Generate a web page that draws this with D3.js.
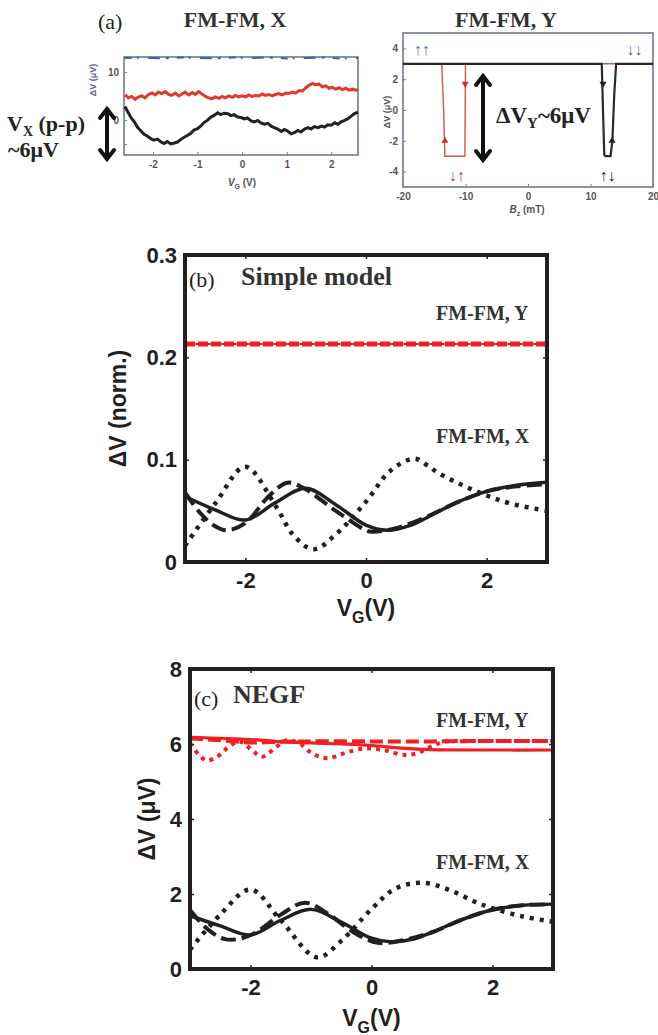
<!DOCTYPE html>
<html>
<head>
<meta charset="utf-8">
<script src="https://cdn.jsdelivr.net/npm/d3@7"></script>
<style>
  body { margin: 0; background: #fff; }
  svg text { font-family: "Liberation Sans", Arial, sans-serif; }
  .serif { font-family: "Liberation Serif", "Times New Roman", serif !important; }
</style>
</head>
<body>
<svg id="fig" width="658" height="1035"></svg>
<script>
// ---------- data ----------
// panel (a) left: measured DeltaV vs V_G
var aLeftRed = [[-2.62,5.2],[-2.55,4.6],[-2.48,4.9],[-2.4,4.3],[-2.32,4.8],[-2.25,5.0],[-2.18,4.6],[-2.1,5.3],[-2.02,5.6],[-1.95,5.2],[-1.88,5.8],[-1.8,5.5],[-1.72,5.9],[-1.65,5.3],[-1.58,5.1],[-1.5,5.6],[-1.42,5.0],[-1.35,5.4],[-1.28,5.8],[-1.2,5.2],[-1.12,5.7],[-1.05,5.3],[-0.98,5.9],[-0.9,5.4],[-0.82,4.9],[-0.75,4.6],[-0.68,4.4],[-0.6,4.8],[-0.52,4.5],[-0.45,4.9],[-0.38,4.6],[-0.3,5.0],[-0.22,4.7],[-0.15,5.1],[-0.08,4.8],[0,5.0],[0.08,4.8],[0.15,5.2],[0.22,4.9],[0.3,5.1],[0.38,5.0],[0.45,5.4],[0.52,5.1],[0.6,5.3],[0.68,5.0],[0.75,5.3],[0.82,5.5],[0.9,5.2],[0.98,5.6],[1.05,5.5],[1.12,5.8],[1.2,5.6],[1.28,6.1],[1.35,6.0],[1.42,6.6],[1.5,7.2],[1.58,7.6],[1.65,7.3],[1.72,7.5],[1.8,6.9],[1.88,7.1],[1.95,6.6],[2.02,6.8],[2.1,6.4],[2.18,6.7],[2.25,6.3],[2.32,6.6],[2.4,6.2],[2.48,6.4],[2.55,6.2],[2.6,6.3]];
var aLeftBlack = [[-2.63,2.8],[-2.56,1.6],[-2.5,0.6],[-2.42,-0.4],[-2.35,-1.5],[-2.28,-2.2],[-2.2,-3.0],[-2.12,-3.4],[-2.05,-3.9],[-1.98,-4.2],[-1.9,-4.0],[-1.82,-4.6],[-1.75,-4.9],[-1.68,-4.5],[-1.6,-5.0],[-1.52,-4.8],[-1.45,-4.6],[-1.38,-4.1],[-1.3,-3.6],[-1.22,-3.2],[-1.15,-2.8],[-1.08,-2.1],[-1.0,-1.8],[-0.92,-1.2],[-0.85,-0.5],[-0.78,-0.1],[-0.7,0.6],[-0.62,1.0],[-0.55,1.5],[-0.48,1.1],[-0.4,1.4],[-0.32,1.3],[-0.25,0.9],[-0.18,1.1],[-0.1,0.6],[-0.02,0.5],[0.05,0.2],[0.12,0.4],[0.2,-0.2],[0.28,-0.4],[0.35,-0.1],[0.42,-0.6],[0.5,-0.9],[0.58,-0.7],[0.65,-1.3],[0.72,-1.6],[0.8,-1.9],[0.88,-2.4],[0.95,-2.0],[1.02,-2.3],[1.1,-2.9],[1.18,-2.6],[1.25,-2.2],[1.32,-2.5],[1.4,-1.9],[1.48,-1.6],[1.55,-1.9],[1.62,-1.4],[1.7,-1.6],[1.78,-1.3],[1.85,-1.5],[1.92,-1.0],[2.0,-1.1],[2.08,-0.6],[2.15,-0.9],[2.22,-0.4],[2.3,-0.1],[2.38,0.3],[2.45,0.8],[2.52,1.3],[2.6,1.6]];
var aLeftBlue = [[-2.63,12.9],[-2.2,13.0],[-1.8,12.8],[-1.4,13.0],[-1.0,12.9],[-0.6,12.8],[-0.2,13.0],[0.2,12.9],[0.6,13.0],[1.0,12.8],[1.4,12.9],[1.8,13.0],[2.2,12.8],[2.6,12.9]];
var aLeftXTicks = [-2, -1, 0, 1, 2];
var aLeftYTicks = [-5, 0, 5, 10];

// panel (a) right: DeltaV vs B_z sweep
var aRightRed = [[-20,3],[-13.8,3],[-13.5,0],[-13.3,-3],[-10.1,-3],[-10,3],[20,3]];
var aRightBlack = [[-20,3],[11.8,3],[12.0,0],[12.2,-2.9],[12.4,-3],[13.2,-3],[13.5,-2],[13.8,1],[14.1,3],[20,3]];
var aRightXTicks = [-20, -10, 0, 10, 20];
var aRightYTicks = [-4, -2, 0, 2, 4];

// panel (b) simple model
var vgB = [-3, -2.5, -2, -1.5, -1, -0.5, 0, 0.35, 0.75, 1, 1.5, 2, 2.5, 3];
var bSolid = [0.064, 0.051, 0.041, 0.058, 0.072, 0.056, 0.036, 0.031, 0.036, 0.043, 0.058, 0.069, 0.075, 0.078];
var vgBDash = [-3, -2.75, -2.5, -2.3, -2, -1.6, -1.3, -1, -0.5, 0, 0.1, 0.5, 1, 1.5, 2, 2.5, 3];
var bDash = [0.068, 0.048, 0.035, 0.031, 0.038, 0.065, 0.0775, 0.071, 0.05, 0.031, 0.0296, 0.033, 0.044, 0.058, 0.069, 0.074, 0.076];
var vgBDot = [-3, -2.5, -2, -1.5, -1.2, -0.87, -0.5, 0, 0.4, 0.8, 1.0, 1.2, 1.6, 2, 2.4, 3];
var bDot = [0.016, 0.057, 0.093, 0.055, 0.026, 0.0124, 0.027, 0.059, 0.089, 0.101, 0.095, 0.087, 0.075, 0.065, 0.057, 0.05];
var vgBRed = [-3, 3];
var bRed = [0.213, 0.213];

// panel (c) NEGF
var vgC = [-3, -2.5, -2, -1.5, -1, -0.5, 0, 0.3, 0.7, 1, 1.5, 2, 2.5, 3];
var cSolid = [1.42, 1.15, 0.91, 1.3, 1.59, 1.25, 0.82, 0.73, 0.8, 0.98, 1.32, 1.58, 1.7, 1.73];
var vgCDash = [-3, -2.7, -2.4, -2, -1.5, -1.1, -0.7, -0.3, 0.1, 0.5, 1, 1.5, 2, 2.5, 3];
var cDash = [1.57, 1.05, 0.79, 0.9, 1.45, 1.77, 1.45, 0.98, 0.7, 0.76, 0.98, 1.32, 1.58, 1.7, 1.72];
var vgCDot = [-3, -2.5, -2, -1.5, -0.9, -0.5, 0, 0.4, 0.85, 1.3, 1.7, 2, 2.5, 3];
var cDot = [0.52, 1.45, 2.12, 1.3, 0.31, 0.75, 1.6, 2.15, 2.3, 2.1, 1.8, 1.62, 1.4, 1.26];
var vgCRed = [-3, -2, -1.5, -1, -0.5, 0, 0.5, 1, 2, 3];
var cRedSolid = [6.18, 6.12, 6.06, 6.03, 6.0, 5.96, 5.89, 5.85, 5.84, 5.84];
var vgCRedDash = [-3, -2.5, -2, -1.5, -1, 0, 1, 2, 3];
var cRedDash = [6.15, 6.1, 6.04, 6.06, 6.07, 6.07, 6.07, 6.08, 6.08];
var vgCRedDot = [-3, -2.74, -2.55, -2.33, -2.17, -1.95, -1.81, -1.56, -1.4, -1.18, -0.98, -0.73, -0.46, -0.13, 0.2, 0.53, 0.75, 0.97, 1.2, 1.6, 2, 3];
var cRedDot = [6.02, 5.57, 5.66, 5.97, 6.06, 5.8, 5.66, 5.94, 6.1, 6.0, 5.75, 5.62, 5.75, 5.88, 5.84, 5.71, 5.75, 5.92, 6.06, 6.08, 6.08, 6.08];

var vgTicks = [-2, 0, 2];

var svg = d3.select("#fig");
var ink = "#231f20";
var red = "#ed2024";
var plain = function (d) { return String(d); };   // keeps the short hyphen for negatives

function zip(xs, ys) { return xs.map(function (x, i) { return [x, ys[i]]; }); }

// ---------- panel (a) ----------
function smallAxes(g, x, y, xt, yt, yfmt) {
    var x0 = x.range()[0], x1 = x.range()[1], y0 = y.range()[0], y1 = y.range()[1];
    g.append("g").attr("transform", "translate(0," + y0 + ")")
        .call(d3.axisBottom(x).tickValues(xt).tickSize(-3).tickPadding(6).tickFormat(plain))
        .call(function (a) { a.select(".domain").remove(); });
    g.append("g").attr("transform", "translate(" + x0 + ",0)")
        .call(d3.axisLeft(y).tickValues(yt).tickSize(-3).tickPadding(5).tickFormat(yfmt))
        .call(function (a) { a.select(".domain").remove(); });
    g.selectAll(".tick line").attr("stroke", "#6d7c8c");
    g.selectAll(".tick text").attr("fill", "#555").attr("font-size", 10).attr("font-weight", "bold");
    g.append("rect").attr("x", x0).attr("y", y1).attr("width", x1 - x0).attr("height", y0 - y1)
        .attr("fill", "none").attr("stroke", "#6d7c8c").attr("stroke-width", 1.6);
}

var axL = d3.scaleLinear().domain([-2.65, 2.6]).range([124, 358]);
var ayL = d3.scaleLinear().domain([-7.3, 13.1]).range([155, 57]);
var gL = svg.append("g");
smallAxes(gL, axL, ayL, aLeftXTicks, aLeftYTicks, function (d) { return (d === 0 || d === 10) ? d : ""; });
var lineL = d3.line().x(function (d) { return axL(d[0]); }).y(function (d) { return ayL(d[1]); });
gL.append("path").attr("d", lineL(aLeftBlue)).attr("fill", "none").attr("stroke", "#3a5fb0")
    .attr("stroke-width", 2).attr("stroke-dasharray", "7,5,2,9,12,6,3,8");
gL.append("path").attr("d", lineL(aLeftRed)).attr("fill", "none").attr("stroke", "#e03a2a").attr("stroke-width", 3);
gL.append("path").attr("d", lineL(aLeftBlack)).attr("fill", "none").attr("stroke", "#222").attr("stroke-width", 3);
gL.append("text").attr("transform", "translate(96,80) rotate(-90)").attr("text-anchor", "middle")
    .attr("font-size", 9).attr("font-weight", "bold").attr("fill", "#5a6a90").text("ΔV (μV)");
var xlL = gL.append("text").attr("x", 242).attr("y", 186).attr("text-anchor", "middle")
    .attr("font-size", 10).attr("font-weight", "bold").attr("fill", "#555");
xlL.append("tspan").attr("font-style", "italic").text("V");
xlL.append("tspan").attr("font-size", 7).attr("dy", 3).text("G");
xlL.append("tspan").attr("dy", -3).text(" (V)");

var axR = d3.scaleLinear().domain([-20, 20]).range([403, 653]);
var ayR = d3.scaleLinear().domain([-5, 5]).range([187, 33]);
var gR = svg.append("g");
smallAxes(gR, axR, ayR, aRightXTicks, aRightYTicks, plain);
var lineR = d3.line().x(function (d) { return axR(d[0]); }).y(function (d) { return ayR(d[1]); });
gR.append("path").attr("d", lineR(aRightRed)).attr("fill", "none").attr("stroke", "#d4553f").attr("stroke-width", 1.4);
gR.append("path").attr("d", lineR(aRightBlack)).attr("fill", "none").attr("stroke", "#2a2a2a").attr("stroke-width", 2.2);
var tri = d3.symbol().type(d3.symbolTriangle).size(22);
[[-13.3, -2, 0, "#c0392b"], [-10.05, 1.7, 180, "#c0392b"], [12.0, 1.7, 180, "#222"], [13.45, -2, 0, "#222"]].forEach(function (m) {
    gR.append("path").attr("d", tri()).attr("fill", m[3])
        .attr("transform", "translate(" + axR(m[0]) + "," + ayR(m[1]) + ") rotate(" + m[2] + ")");
});
[["↑↑", -17, 3.6, "#4a6aa8"], ["↓↓", 17, 3.6, "#4a6aa8"], ["↓↑", -11.4, -4.6, "#c0392b"], ["↑↓", 12.7, -4.6, "#222"]].forEach(function (s) {
    gR.append("text").attr("x", axR(s[1])).attr("y", ayR(s[2])).attr("text-anchor", "middle")
        .attr("font-size", 16).attr("fill", s[3]).text(s[0]);
});
gR.append("text").attr("transform", "translate(390,112) rotate(-90)").attr("text-anchor", "middle")
    .attr("font-size", 9).attr("font-weight", "bold").attr("fill", "#555").text("ΔV (μV)");
var xlR = gR.append("text").attr("x", 527).attr("y", 213).attr("text-anchor", "middle")
    .attr("font-size", 10).attr("font-weight", "bold").attr("fill", "#555");
xlR.append("tspan").attr("font-style", "italic").text("B");
xlR.append("tspan").attr("font-size", 7).attr("dy", 3).text("z");
xlR.append("tspan").attr("dy", -3).text(" (mT)");

// titles and annotations of (a)
svg.append("text").attr("class", "serif").attr("x", 98).attr("y", 29).attr("font-size", 22).attr("fill", "#222").text("(a)");
svg.append("text").attr("class", "serif").attr("x", 235).attr("y", 27).attr("text-anchor", "middle")
    .attr("font-size", 22).attr("font-weight", "bold").attr("fill", "#333").text("FM-FM, X");
svg.append("text").attr("class", "serif").attr("x", 506).attr("y", 27).attr("text-anchor", "middle")
    .attr("font-size", 22).attr("font-weight", "bold").attr("fill", "#333").text("FM-FM, Y");

function dblArrow(x, y1, y2) {
    var g = svg.append("g").attr("fill", "none").attr("stroke", "#111").attr("stroke-width", 4).attr("stroke-linecap", "round");
    g.append("line").attr("x1", x).attr("x2", x).attr("y1", y1 + 2).attr("y2", y2 - 2);
    g.append("polyline").attr("points", (x - 7) + "," + (y1 + 9) + " " + x + "," + y1 + " " + (x + 7) + "," + (y1 + 9));
    g.append("polyline").attr("points", (x - 7) + "," + (y2 - 9) + " " + x + "," + y2 + " " + (x + 7) + "," + (y2 - 9));
}
dblArrow(107, 109, 159);
dblArrow(483, 76, 160);

var vx = svg.append("text").attr("class", "serif").attr("x", 7).attr("y", 131).attr("font-size", 22)
    .attr("font-weight", "bold").attr("fill", "#222");
vx.append("tspan").text("V");
vx.append("tspan").attr("font-size", 14).attr("dy", 5).text("X");
vx.append("tspan").attr("dy", -5).text(" (p-p)");
svg.append("text").attr("class", "serif").attr("x", 8).attr("y", 157).attr("font-size", 22)
    .attr("font-weight", "bold").attr("fill", "#222").text("~6μV");
var dvy = svg.append("text").attr("class", "serif").attr("x", 496).attr("y", 123).attr("font-size", 23)
    .attr("font-weight", "bold").attr("fill", "#222");
dvy.append("tspan").text("ΔV");
dvy.append("tspan").attr("font-size", 15).attr("dy", 5).text("Y");
dvy.append("tspan").attr("dy", -5).text("~6μV");

// ---------- panels (b) and (c) ----------
function bigPanel(o) {
    var x = d3.scaleLinear().domain([-3, 3]).range(o.xr);
    var y = d3.scaleLinear().domain(o.yd).range(o.yr);
    var g = svg.append("g");
    var line = d3.line().curve(d3.curveCatmullRom.alpha(0.5))
        .x(function (d) { return x(d[0]); }).y(function (d) { return y(d[1]); });

    o.series.forEach(function (s) {
        g.append("path").attr("d", line(s.pts)).attr("fill", "none").attr("stroke", s.color)
            .attr("stroke-width", s.w).attr("stroke-dasharray", s.dash || null)
            .attr("stroke-linecap", "butt");
    });

    // inward ticks on all four sides
    g.append("g").attr("transform", "translate(0," + o.yr[0] + ")")
        .call(d3.axisBottom(x).tickValues(vgTicks).tickSize(-4).tickPadding(10).tickFormat(plain));
    g.append("g").attr("transform", "translate(0," + o.yr[1] + ")")
        .call(d3.axisTop(x).tickValues(vgTicks).tickSize(-4).tickFormat(""));
    g.append("g").attr("transform", "translate(" + o.xr[0] + ",0)")
        .call(d3.axisLeft(y).tickValues(o.yt).tickSize(-4).tickPadding(8).tickFormat(o.yfmt));
    g.append("g").attr("transform", "translate(" + o.xr[1] + ",0)")
        .call(d3.axisRight(y).tickValues(o.yt).tickSize(-4).tickFormat(""));
    g.selectAll(".domain").remove();
    g.selectAll(".tick line").attr("stroke", ink).attr("stroke-width", 1.5);
    g.selectAll(".tick text").attr("fill", ink).attr("font-size", 22).attr("font-weight", "bold")
        .attr("font-family", "'Liberation Sans', Arial, sans-serif");

    g.append("rect").attr("x", o.xr[0]).attr("y", o.yr[1]).attr("width", o.xr[1] - o.xr[0])
        .attr("height", o.yr[0] - o.yr[1]).attr("fill", "none").attr("stroke", ink).attr("stroke-width", 4);

    g.append("text").attr("transform", "translate(" + o.ylx + "," + (o.yr[0] + o.yr[1]) / 2 + ") rotate(-90)")
        .attr("text-anchor", "middle").attr("font-size", 23).attr("font-weight", "bold").attr("fill", ink).text(o.ylabel);
    var xl = g.append("text").attr("x", (o.xr[0] + o.xr[1]) / 2).attr("y", o.yr[0] + o.xlDy)
        .attr("text-anchor", "middle").attr("font-size", 23).attr("font-weight", "bold").attr("fill", ink);
    xl.append("tspan").text("V");
    xl.append("tspan").attr("font-size", 16).attr("dy", 7).text("G");
    xl.append("tspan").attr("dy", -7).text("(V)");

    g.append("text").attr("class", "serif").attr("x", o.xr[0] + 4).attr("y", o.yr[1] + o.tagDy)
        .attr("font-size", 22).attr("fill", ink).text(o.tag);
    g.append("text").attr("class", "serif").attr("x", o.titleX).attr("y", o.yr[1] + o.titleDy)
        .attr("font-size", 26).attr("font-weight", "bold").attr("fill", "#333").text(o.title);
    g.append("text").attr("class", "serif").attr("x", 436).attr("y", o.labY)
        .attr("font-size", 20).attr("font-weight", "bold").attr("fill", "#333").text("FM-FM, Y");
    g.append("text").attr("class", "serif").attr("x", 436).attr("y", o.labX)
        .attr("font-size", 20).attr("font-weight", "bold").attr("fill", "#333").text("FM-FM, X");
}

bigPanel({
    xr: [185, 547], yr: [562, 255], yd: [0, 0.3], yt: [0, 0.1, 0.2, 0.3],
    yfmt: function (d) { return d === 0 ? "0" : d.toFixed(1); },
    ylabel: "ΔV (norm.)", ylx: 126, xlDy: 54,
    tag: "(b)", tagDy: 32, title: "Simple model", titleX: 241, titleDy: 30,
    labY: 320, labX: 443,
    series: [
        { pts: zip(vgBRed, bRed), color: red, w: 2 },
        { pts: zip(vgBRed, bRed), color: red, w: 5, dash: "10,3" },
        { pts: zip(vgBDot, bDot), color: ink, w: 4.5, dash: "4,6" },
        { pts: zip(vgBDash, bDash), color: ink, w: 4, dash: "15,6" },
        { pts: zip(vgB, bSolid), color: ink, w: 3.5 }
    ]
});

bigPanel({
    xr: [190, 553], yr: [969, 669], yd: [0, 8], yt: [0, 2, 4, 6, 8],
    yfmt: plain,
    ylabel: "ΔV (μV)", ylx: 155, xlDy: 57,
    tag: "(c)", tagDy: 37, title: "NEGF", titleX: 233, titleDy: 34,
    labY: 727, labX: 869,
    series: [
        { pts: zip(vgCRedDot, cRedDot), color: red, w: 4, dash: "4,5" },
        { pts: zip(vgCRedDash, cRedDash), color: red, w: 4, dash: "13,5" },
        { pts: zip(vgCRed, cRedSolid), color: red, w: 3.2 },
        { pts: zip(vgCDot, cDot), color: ink, w: 4.5, dash: "4,6" },
        { pts: zip(vgCDash, cDash), color: ink, w: 4, dash: "15,6" },
        { pts: zip(vgC, cSolid), color: ink, w: 3.5 }
    ]
});
</script>
</body>
</html>
